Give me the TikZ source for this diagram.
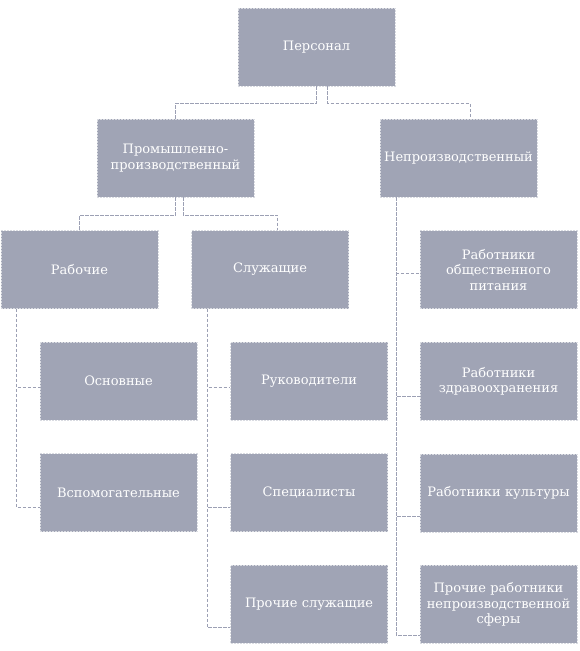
\documentclass[tikz,border=0pt]{standalone}
\usepackage{fontspec}
\setmainfont{DejaVu Serif}
\usetikzlibrary{positioning,calc}

\definecolor{boxfill}{RGB}{160,164,181}
\definecolor{linecol}{RGB}{156,160,180}

\tikzset{
  unit/.style={fill=boxfill, draw=white!60!boxfill, dash pattern=on 2pt off 1pt,
    line width=0.6pt, minimum width=157pt, minimum height=78pt, text width=150pt,
    align=center, text=white, inner sep=2pt, font=\fontsize{13}{15.5}\selectfont},
  link/.style={draw=linecol, dash pattern=on 3.5pt off 1.5pt, line width=1pt}
}

\begin{document}
\begin{tikzpicture}[x=1pt,y=-1pt]
\useasboundingbox (0,0) rectangle (579,651);

\node[unit] (pers) at (316.5,47) {Персонал};
\node[unit] (prom) at (175.5,158) {Промышленно-\\производственный};
\node[unit] (nepr) at (458.5,158) {Непроизводственный};

\node[unit] (rab) at (79.5,269.5) {Рабочие};
\node[unit, right=33pt of rab] (sluzh) {Служащие};
\node[unit, below=33pt of nepr, xshift=40pt] (obsh) {Работники\\общественного\\питания};

\node[unit, below=33pt of rab, xshift=39pt] (osn) {Основные};
\node[unit, below=33pt of osn] (vsp) {Вспомогательные};

\node[unit, below=33pt of sluzh, xshift=39pt] (ruk) {Руководители};
\node[unit, below=33pt of ruk] (spec) {Специалисты};
\node[unit, below=33pt of spec] (proch) {Прочие служащие};

\node[unit, below=33pt of obsh] (zdrav) {Работники\\здравоохранения};
\node[unit, below=33pt of zdrav] (kult) {Работники культуры};
\node[unit, below=33pt of kult] (prochnp) {Прочие работники\\непроизводственной\\сферы};

% personal -> two groups
\draw[link] (pers.south) -- ++(0,17) -| (prom.north);
\draw[link] ($(pers.south)+(11,0)$) -- ++(0,17) -| ($(nepr.north)+(11.5,0)$);

% industrial -> workers, employees
\draw[link] (prom.south) -- ++(0,18) -| (rab.north);
\draw[link] ($(prom.south)+(7.5,0)$) -- ++(0,18) -| ($(sluzh.north)+(7.5,0)$);

% workers
\draw[link] ($(rab.south west)+(16,0)$) |- ($(osn.west)+(0,6.5)$);
\draw[link] ($(rab.south west)+(16,0)$) |- ($(vsp.west)+(0,15)$);

% employees
\draw[link] ($(sluzh.south west)+(16,0)$) |- ($(ruk.west)+(0,6.5)$);
\draw[link] ($(sluzh.south west)+(16,0)$) |- ($(spec.west)+(0,15)$);
\draw[link] ($(sluzh.south west)+(16,0)$) |- ($(proch.west)+(0,23.5)$);

% non-industrial
\draw[link] ($(nepr.south west)+(17,0)$) |- ($(obsh.west)+(0,3.5)$);
\draw[link] ($(nepr.south west)+(17,0)$) |- ($(zdrav.west)+(0,15.5)$);
\draw[link] ($(nepr.south west)+(17,0)$) |- ($(kult.west)+(0,24)$);
\draw[link] ($(nepr.south west)+(17,0)$) |- ($(prochnp.west)+(0,31.5)$);
\end{tikzpicture}
\end{document}
